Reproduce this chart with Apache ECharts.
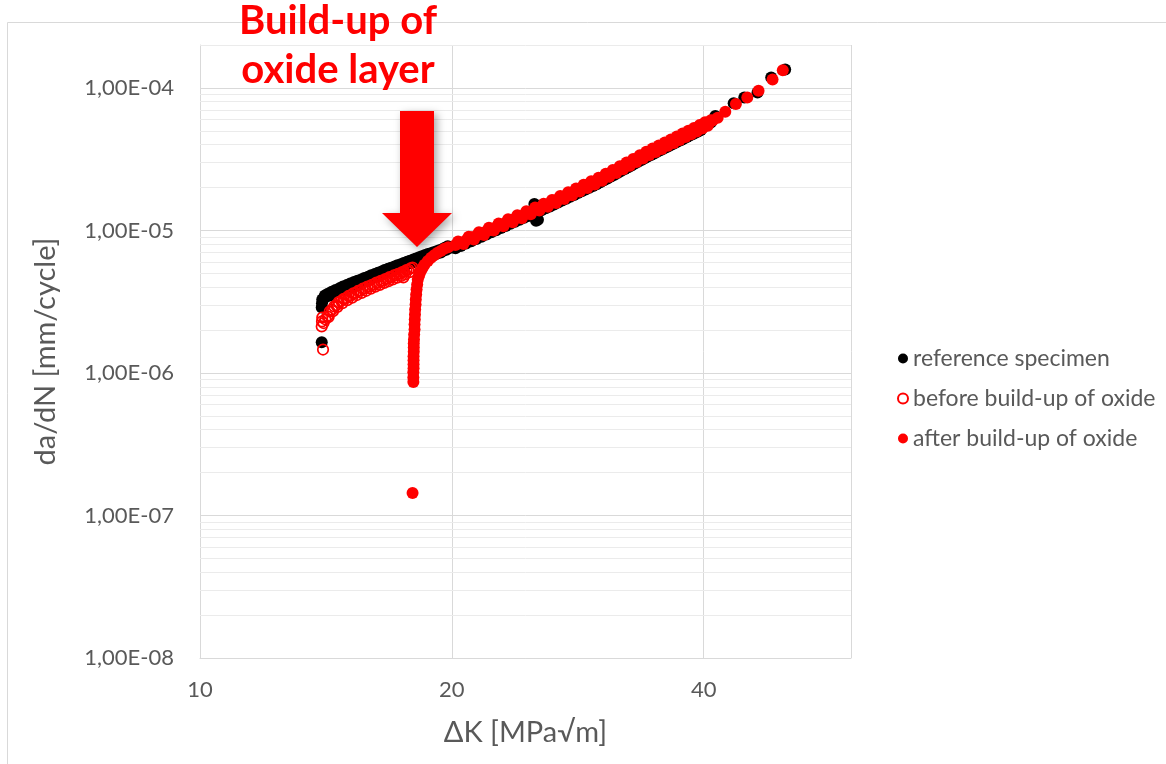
<!DOCTYPE html>
<html>
<head>
<meta charset="utf-8">
<script src="https://cdn.jsdelivr.net/npm/echarts@6/dist/echarts.min.js"></script>
<style>
  html, body { margin: 0; padding: 0; background: #ffffff; }
  #chart { width: 1166px; height: 764px; }
</style>
</head>
<body>
<div id="chart"></div>
<script>
// Fatigue crack growth rate da/dN versus stress intensity range ΔK (log-log)
const seriesNames = ['reference specimen', 'before build-up of oxide', 'after build-up of oxide'];

const xTickValues = [10, 20, 40];
const xRange = [10, 60];
const yTickValues = [1e-8, 1e-7, 1e-6, 1e-5, 1e-4];
const yRange = [1e-8, 2e-4];

// [ΔK in MPa√m, da/dN in mm/cycle]
const referenceSpecimen = [
  [13.98, 1.64e-6], [13.98, 2.88e-6], [13.99, 3.08e-6], [14.0, 3.27e-6], [14.05, 3.32e-6],
  [14.15, 3.42e-6], [14.3, 3.50e-6], [14.45, 3.64e-6], [14.6, 3.70e-6], [14.75, 3.85e-6],
  [14.9, 3.90e-6], [15.05, 4.05e-6], [15.2, 4.10e-6], [15.35, 4.25e-6], [15.5, 4.28e-6],
  [15.65, 4.42e-6], [15.8, 4.48e-6], [15.95, 4.63e-6], [16.1, 4.68e-6], [16.25, 4.84e-6],
  [16.4, 4.87e-6], [16.55, 5.05e-6], [16.7, 5.10e-6], [16.85, 5.26e-6], [17.0, 5.28e-6],
  [17.15, 5.46e-6], [17.3, 5.49e-6], [17.45, 5.66e-6], [17.6, 5.70e-6], [17.75, 5.87e-6],
  [17.9, 5.90e-6], [18.05, 6.10e-6], [18.2, 6.13e-6], [18.35, 6.33e-6], [18.5, 6.36e-6],
  [18.65, 6.55e-6], [18.8, 6.57e-6], [18.95, 6.75e-6], [19.1, 6.77e-6], [19.25, 6.95e-6],
  [19.4, 7.00e-6], [19.55, 7.22e-6], [19.7, 7.33e-6], [19.85, 7.55e-6], [20.0, 7.60e-6],
  [14.1, 3.50e-6], [14.22, 3.60e-6], [14.37, 3.71e-6], [14.52, 3.82e-6], [14.68, 3.93e-6],
  [14.82, 4.04e-6], [14.98, 4.14e-6], [15.12, 4.24e-6], [15.28, 4.35e-6], [15.42, 4.44e-6],
  [15.58, 4.52e-6], [15.72, 4.63e-6], [15.88, 4.74e-6], [16.02, 4.85e-6], [16.18, 4.95e-6],
  [16.32, 5.05e-6], [16.48, 5.16e-6], [16.62, 5.27e-6], [16.78, 5.39e-6], [16.92, 5.48e-6],
  [17.08, 5.58e-6], [17.22, 5.70e-6], [17.38, 5.80e-6], [17.52, 5.91e-6], [17.68, 6.02e-6],
  [17.82, 6.13e-6], [17.98, 6.24e-6], [18.12, 6.36e-6], [18.28, 6.48e-6], [18.42, 6.60e-6],
  [18.58, 6.72e-6], [18.72, 6.82e-6], [18.88, 6.93e-6], [19.02, 7.03e-6], [19.18, 7.13e-6],
  [19.32, 7.26e-6], [19.48, 7.38e-6], [19.62, 7.56e-6], [19.78, 7.74e-6],
  [20.35, 7.95e-6], [20.65, 8.22e-6], [20.95, 8.55e-6], [21.25, 8.82e-6], [21.55, 9.20e-6],
  [21.85, 9.50e-6], [22.15, 9.88e-6], [22.45, 1.02e-5], [22.75, 1.05e-5], [23.05, 1.09e-5],
  [23.35, 1.13e-5], [23.65, 1.16e-5], [23.95, 1.205e-5], [24.25, 1.24e-5], [24.55, 1.28e-5],
  [24.85, 1.32e-5], [25.1, 1.53e-5], [25.15, 1.36e-5], [25.22, 1.17e-5], [25.35, 1.19e-5],
  [25.45, 1.40e-5], [25.75, 1.445e-5], [26.05, 1.49e-5], [26.35, 1.54e-5], [26.65, 1.585e-5],
  [26.95, 1.64e-5], [27.25, 1.69e-5], [27.55, 1.74e-5], [27.85, 1.795e-5], [28.15, 1.85e-5],
  [28.45, 1.905e-5], [28.75, 1.965e-5], [29.05, 2.02e-5], [29.35, 2.08e-5], [29.65, 2.14e-5],
  [29.95, 2.20e-5], [30.25, 2.27e-5], [30.55, 2.34e-5], [30.85, 2.41e-5], [31.15, 2.49e-5],
  [31.45, 2.56e-5], [31.75, 2.65e-5], [32.05, 2.73e-5], [32.35, 2.81e-5], [32.65, 2.89e-5],
  [32.95, 2.98e-5], [33.25, 3.06e-5], [33.55, 3.16e-5], [33.85, 3.25e-5], [34.15, 3.34e-5],
  [34.45, 3.44e-5], [34.75, 3.53e-5], [35.05, 3.62e-5], [35.35, 3.71e-5], [35.65, 3.80e-5],
  [35.95, 3.90e-5], [36.25, 3.99e-5], [36.55, 4.09e-5], [36.85, 4.19e-5], [37.15, 4.29e-5],
  [37.45, 4.39e-5], [37.75, 4.50e-5], [38.05, 4.60e-5], [38.35, 4.71e-5], [38.65, 4.82e-5],
  [38.95, 4.93e-5], [39.25, 5.04e-5], [39.55, 5.16e-5], [39.85, 5.29e-5], [40.15, 5.42e-5],
  [40.45, 5.55e-5], [40.8, 5.72e-5], [41.3, 6.35e-5], [43.44, 7.79e-5], [44.73, 8.58e-5],
  [46.39, 9.30e-5], [48.17, 1.185e-4], [50.06, 1.348e-4],
  [20.2, 7.50e-6], [20.5, 7.79e-6], [20.8, 8.09e-6], [21.1, 8.40e-6], [21.4, 8.71e-6],
  [21.7, 9.03e-6], [22.0, 9.36e-6], [22.3, 9.70e-6], [22.6, 1.004e-5], [22.9, 1.039e-5],
  [23.2, 1.075e-5], [23.5, 1.112e-5], [23.8, 1.149e-5], [24.1, 1.186e-5], [24.4, 1.225e-5],
  [24.7, 1.264e-5], [25.0, 1.303e-5], [25.6, 1.386e-5], [25.9, 1.429e-5], [26.2, 1.473e-5],
  [26.5, 1.520e-5], [26.8, 1.568e-5], [27.1, 1.619e-5], [27.4, 1.670e-5], [27.7, 1.721e-5],
  [28.0, 1.774e-5], [28.3, 1.827e-5], [28.6, 1.883e-5], [28.9, 1.938e-5], [29.2, 1.995e-5],
  [29.5, 2.052e-5], [29.8, 2.111e-5], [30.1, 2.176e-5], [30.4, 2.245e-5], [30.7, 2.315e-5],
  [31.0, 2.389e-5], [31.3, 2.462e-5], [31.6, 2.539e-5], [31.9, 2.617e-5], [32.2, 2.697e-5],
  [32.5, 2.778e-5], [32.8, 2.860e-5], [33.1, 2.943e-5], [33.4, 3.029e-5], [33.7, 3.117e-5],
  [34.0, 3.207e-5], [34.3, 3.297e-5], [34.6, 3.387e-5], [34.9, 3.472e-5], [35.2, 3.560e-5],
  [35.5, 3.649e-5], [35.8, 3.740e-5], [36.1, 3.832e-5], [36.4, 3.925e-5], [36.7, 4.022e-5],
  [37.0, 4.118e-5], [37.3, 4.215e-5], [37.6, 4.316e-5], [37.9, 4.417e-5], [38.2, 4.521e-5],
  [38.5, 4.626e-5], [38.8, 4.730e-5], [39.1, 4.838e-5], [39.4, 4.947e-5], [39.7, 5.067e-5]
];

const beforeOxide = [
  [14.03, 1.46e-6], [13.98, 2.12e-6], [13.99, 2.30e-6], [14.0, 2.45e-6], [14.05, 2.24e-6],
  [14.12, 2.38e-6], [14.2, 2.50e-6], [14.29, 2.70e-6], [14.38, 2.78e-6], [14.47, 2.93e-6],
  [14.56, 2.99e-6], [14.65, 3.14e-6], [14.75, 3.20e-6], [14.85, 3.31e-6], [14.95, 3.35e-6],
  [15.05, 3.47e-6], [15.15, 3.50e-6], [15.25, 3.62e-6], [15.35, 3.65e-6], [15.45, 3.76e-6],
  [15.55, 3.79e-6], [15.65, 3.90e-6], [15.75, 3.92e-6], [15.85, 4.03e-6], [15.95, 4.05e-6],
  [16.05, 4.15e-6], [16.15, 4.18e-6], [16.25, 4.30e-6], [16.35, 4.31e-6], [16.45, 4.43e-6],
  [16.55, 4.45e-6], [16.65, 4.56e-6], [16.75, 4.58e-6], [16.85, 4.70e-6], [16.95, 4.71e-6],
  [17.05, 4.83e-6], [17.15, 4.85e-6], [17.25, 4.96e-6], [17.35, 4.98e-6], [17.45, 5.10e-6],
  [17.5, 4.68e-6], [17.55, 5.14e-6], [17.65, 5.27e-6], [17.75, 5.30e-6], [17.85, 5.43e-6],
  [17.95, 5.48e-6],
  [14.25, 2.47e-6], [14.42, 2.71e-6], [14.6, 2.91e-6], [14.8, 3.09e-6], [15.0, 3.24e-6],
  [15.2, 3.38e-6], [15.4, 3.52e-6], [15.6, 3.65e-6], [15.8, 3.77e-6], [16.0, 3.90e-6],
  [16.2, 4.03e-6], [16.4, 4.15e-6], [16.6, 4.28e-6], [16.8, 4.41e-6], [17.0, 4.53e-6],
  [17.2, 4.66e-6], [17.4, 4.79e-6], [17.6, 4.94e-6], [17.8, 5.09e-6]
];

const afterOxide = [
  [17.95, 1.44e-7], [17.99, 8.64e-7], [17.99, 9.30e-7], [17.99, 1.01e-6], [18.0, 1.08e-6],
  [18.0, 1.15e-6], [18.0, 1.23e-6], [18.0, 1.31e-6], [18.01, 1.41e-6], [18.01, 1.51e-6],
  [18.01, 1.61e-6], [18.02, 1.72e-6], [18.03, 1.86e-6], [18.05, 2.02e-6], [18.05, 2.19e-6],
  [18.06, 2.37e-6], [18.07, 2.57e-6], [18.08, 2.79e-6], [18.1, 3.02e-6], [18.11, 3.27e-6],
  [18.13, 3.55e-6], [18.15, 3.85e-6], [18.18, 4.18e-6], [18.21, 4.52e-6], [18.28, 4.85e-6],
  [18.35, 5.16e-6], [18.45, 5.45e-6], [18.55, 5.75e-6], [18.72, 6.10e-6], [18.89, 6.44e-6],
  [19.05, 6.70e-6], [19.23, 6.98e-6], [19.4, 7.18e-6], [19.59, 7.45e-6], [19.8, 7.62e-6],
  [20.2, 7.89e-6], [20.5, 8.20e-6], [20.8, 8.52e-6], [21.1, 8.95e-6], [21.4, 9.17e-6],
  [21.7, 9.51e-6], [22.0, 9.85e-6], [22.3, 1.005e-5], [22.6, 1.057e-5], [22.9, 1.094e-5],
  [23.2, 1.132e-5], [23.5, 1.185e-5], [23.8, 1.209e-5], [24.1, 1.248e-5], [24.4, 1.289e-5],
  [24.7, 1.315e-5], [25.0, 1.372e-5], [25.3, 1.415e-5], [25.6, 1.459e-5], [25.9, 1.504e-5],
  [26.2, 1.550e-5], [26.5, 1.620e-5], [26.8, 1.651e-5], [27.1, 1.704e-5], [27.4, 1.758e-5],
  [27.7, 1.790e-5], [28.0, 1.867e-5], [28.3, 1.923e-5], [28.6, 1.982e-5], [28.9, 2.040e-5],
  [29.2, 2.130e-5], [29.5, 2.160e-5], [29.8, 2.222e-5], [30.1, 2.290e-5], [30.4, 2.363e-5],
  [30.7, 2.410e-5], [31.0, 2.515e-5], [31.3, 2.592e-5], [31.6, 2.673e-5], [31.9, 2.755e-5],
  [32.2, 2.880e-5], [32.5, 2.924e-5], [32.8, 3.011e-5], [33.1, 3.098e-5], [33.4, 3.188e-5],
  [33.7, 3.240e-5], [34.0, 3.376e-5], [34.3, 3.471e-5], [34.6, 3.565e-5], [34.9, 3.655e-5],
  [35.2, 3.800e-5], [35.5, 3.841e-5], [35.8, 3.937e-5], [36.1, 4.034e-5], [36.4, 4.132e-5],
  [36.7, 4.180e-5], [37.0, 4.335e-5], [37.3, 4.437e-5], [37.6, 4.543e-5], [37.9, 4.649e-5],
  [38.2, 4.820e-5], [38.5, 4.869e-5], [38.8, 4.979e-5], [39.1, 5.093e-5], [39.4, 5.207e-5],
  [39.7, 5.270e-5], [40.0, 5.465e-5], [40.3, 5.595e-5], [40.6, 5.729e-5], [41.0, 5.913e-5],
  [41.57, 6.18e-5], [42.45, 6.80e-5], [43.71, 7.70e-5], [45.10, 8.58e-5], [46.52, 9.54e-5],
  [48.35, 1.147e-4], [49.73, 1.332e-4],
  [20.35, 8.36e-6], [20.65, 8.03e-6], [20.95, 9.03e-6], [21.25, 8.64e-6], [21.55, 9.71e-6],
  [21.85, 9.29e-6], [22.15, 1.043e-5], [22.45, 9.97e-6], [22.75, 1.118e-5], [23.05, 1.068e-5],
  [23.35, 1.197e-5], [23.65, 1.142e-5], [23.95, 1.277e-5], [24.25, 1.217e-5], [24.55, 1.361e-5],
  [24.85, 1.297e-5], [25.15, 1.449e-5], [25.45, 1.380e-5], [25.75, 1.540e-5], [26.05, 1.466e-5],
  [26.35, 1.638e-5], [26.65, 1.560e-5], [26.95, 1.744e-5], [27.25, 1.662e-5], [27.55, 1.856e-5],
  [27.85, 1.765e-5], [28.15, 1.971e-5], [28.45, 1.874e-5], [28.75, 2.091e-5], [29.05, 1.987e-5],
  [29.35, 2.215e-5], [29.65, 2.103e-5], [29.95, 2.346e-5], [30.25, 2.233e-5], [30.55, 2.496e-5],
  [30.85, 2.377e-5], [31.15, 2.655e-5], [31.45, 2.527e-5], [31.75, 2.823e-5], [32.05, 2.685e-5],
  [32.35, 2.996e-5], [32.65, 2.848e-5], [32.95, 3.176e-5], [33.25, 3.017e-5], [33.55, 3.363e-5],
  [33.85, 3.195e-5], [34.15, 3.560e-5], [34.45, 3.377e-5], [34.75, 3.754e-5], [35.05, 3.553e-5],
  [35.35, 3.946e-5], [35.65, 3.733e-5], [35.95, 4.144e-5], [36.25, 3.920e-5], [36.55, 4.350e-5],
  [36.85, 4.113e-5], [37.15, 4.561e-5], [37.45, 4.310e-5], [37.75, 4.780e-5], [38.05, 4.516e-5],
  [38.35, 5.007e-5], [38.65, 4.727e-5], [38.95, 5.237e-5], [39.25, 4.944e-5], [39.55, 5.481e-5],
  [39.85, 5.184e-5], [40.15, 5.751e-5], [40.45, 5.436e-5], [40.8, 5.940e-5]
];

// Minor gridlines at 2..9 × each decade, spanning the full ΔK range
const minorGridValues = [];
for (let e = -8; e <= -4; e++) {
  for (let k = 2; k <= 9; k++) {
    const v = k * Math.pow(10, e);
    if (v <= yRange[1] * 1.0001) minorGridValues.push(v);
  }
}

function sciLabel(v) {
  const e = Math.floor(Math.log10(v) + 1e-9);
  const m = v / Math.pow(10, e);
  const sign = e < 0 ? '-' : '+';
  return m.toFixed(2).replace('.', ',') + 'E' + sign + String(Math.abs(e)).padStart(2, '0');
}

const FONT = 'Lato, "Open Sans", sans-serif';
const GREY_TEXT = '#595959';

const chart = echarts.init(document.getElementById('chart'), null, { renderer: 'canvas' });

chart.setOption({
  animation: false,
  backgroundColor: '#ffffff',
  grid: { left: 200, right: 315, top: 45, bottom: 106, containLabel: false },
  xAxis: {
    type: 'log',
    logBase: 2,
    min: xRange[0],
    max: xRange[1],
    axisLine: { show: true, lineStyle: { color: '#d9d9d9', width: 1 } },
    axisTick: { show: false, customValues: xTickValues.concat([xRange[1]]) },
    splitLine: { show: true, lineStyle: { color: '#d9d9d9', width: 1 } },
    axisLabel: {
      customValues: xTickValues,
      color: GREY_TEXT, fontSize: 22, fontFamily: FONT, margin: 21,
      formatter: v => String(Math.round(v))
    },
    name: 'ΔK [MPa√m]',
    nameLocation: 'middle',
    nameGap: 60,
    nameTextStyle: { color: GREY_TEXT, fontSize: 29, fontFamily: FONT }
  },
  yAxis: {
    type: 'log',
    logBase: 10,
    min: yRange[0],
    max: yRange[1],
    axisLine: { show: true, lineStyle: { color: '#d9d9d9', width: 1 } },
    axisTick: { show: false, customValues: yTickValues },
    splitLine: { show: true, lineStyle: { color: '#d9d9d9', width: 1 } },
    axisLabel: {
      customValues: yTickValues,
      color: GREY_TEXT, fontSize: 22, fontFamily: FONT, margin: 26,
      formatter: v => sciLabel(v)
    },
    name: 'da/dN [mm/cycle]',
    nameLocation: 'middle',
    nameGap: 140,
    nameTextStyle: { color: GREY_TEXT, fontSize: 29, fontFamily: FONT }
  },
  legend: {
    orient: 'vertical',
    left: 892,
    top: 342,
    itemWidth: 10,
    itemHeight: 10,
    itemGap: 17,
    textStyle: { color: GREY_TEXT, fontSize: 23, fontFamily: FONT },
    data: seriesNames
  },
  series: [
    {
      name: 'minor grid',
      type: 'scatter',
      data: [[xRange[0], yRange[0]]],
      symbolSize: 0,
      itemStyle: { opacity: 0 },
      z: 1,
      silent: true,
      markLine: {
        z: 1,
        silent: true,
        symbol: ['none', 'none'],
        label: { show: false },
        lineStyle: { color: '#ebebeb', width: 1, type: 'solid' },
        emphasis: { disabled: true },
        data: minorGridValues.map(v => [{ coord: [xRange[0], v] }, { coord: [xRange[1], v] }])
      }
    },
    {
      name: seriesNames[0],
      type: 'scatter',
      z: 3,
      symbol: 'circle',
      symbolSize: 12,
      itemStyle: { color: '#000000', opacity: 1 },
      data: referenceSpecimen
    },
    {
      name: seriesNames[1],
      type: 'scatter',
      z: 4,
      symbol: 'circle',
      symbolSize: 10.5,
      itemStyle: { color: 'rgba(255,255,255,0)', borderColor: '#ff0000', borderWidth: 1.7, opacity: 1 },
      data: beforeOxide
    },
    {
      name: seriesNames[2],
      type: 'scatter',
      z: 5,
      symbol: 'circle',
      symbolSize: 12,
      itemStyle: { color: '#ff0000', opacity: 1 },
      data: afterOxide
    }
  ],
  graphic: [
    {
      type: 'rect',
      silent: true,
      z: -10,
      shape: { x: 7.5, y: 22.5, width: 1300, height: 900 },
      style: { fill: 'none', stroke: '#d9d9d9', lineWidth: 1 }
    },
    {
      type: 'polygon',
      silent: true,
      z: 100,
      shape: {
        points: [[400, 111], [434, 111], [434, 213], [452, 213], [417, 247], [382, 213], [400, 213]]
      },
      style: {
        fill: '#ff0000',
        shadowBlur: 8,
        shadowOffsetX: 3,
        shadowOffsetY: 3,
        shadowColor: 'rgba(0,0,0,0.35)'
      }
    },
    {
      type: 'text',
      silent: true,
      z: 100,
      x: 338,
      y: 21,
      style: {
        text: 'Build-up of',
        fill: '#ff0000',
        font: 'bold 40px ' + FONT,
        textAlign: 'center',
        textVerticalAlign: 'middle'
      }
    },
    {
      type: 'text',
      silent: true,
      z: 100,
      x: 338,
      y: 70,
      style: {
        text: 'oxide layer',
        fill: '#ff0000',
        font: 'bold 40px ' + FONT,
        textAlign: 'center',
        textVerticalAlign: 'middle'
      }
    }
  ]
});
</script>
</body>
</html>
